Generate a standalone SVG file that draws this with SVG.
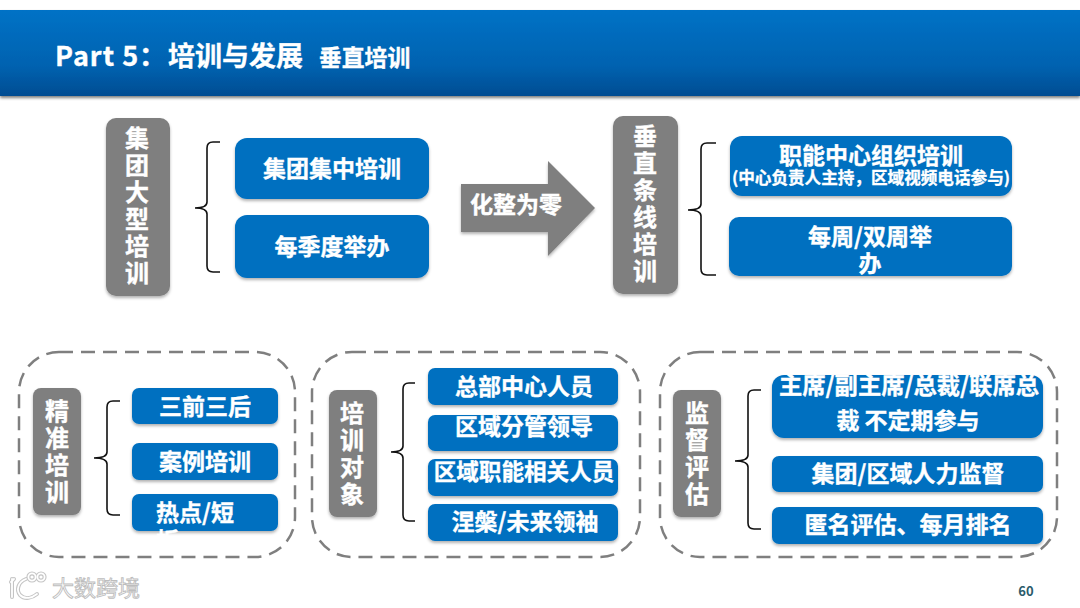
<svg xmlns="http://www.w3.org/2000/svg" width="1080" height="608" viewBox="0 0 1080 608">
<style>
text{font-family:"Noto Sans CJK SC","Noto Sans",sans-serif;font-weight:700;fill:#fff;text-anchor:middle;stroke:#fff;stroke-width:.35px}
.blue{fill:#0070c0;filter:url(#sh)}
.grey{fill:#7f7f7f;filter:url(#sh)}
.dash{fill:none;stroke:#7f7f7f;stroke-width:2.5;stroke-dasharray:14 8}
.brace{fill:none;stroke:#111;stroke-width:1.6}
.t23{font-size:23px}
.mark{fill:none;stroke:#c4c4c4;stroke-width:4;stroke-linecap:round}
.mark2{fill:none;stroke:#fff;stroke-width:1.8;stroke-linecap:round}
</style>
<defs>
<linearGradient id="hd" x1="0" y1="0" x2="0" y2="1"><stop offset="0" stop-color="#0072c6"/><stop offset=".65" stop-color="#0062b0"/><stop offset="1" stop-color="#004c92"/></linearGradient>
<filter id="sh" x="-20%" y="-20%" width="140%" height="140%"><feDropShadow dx="0" dy="2" stdDeviation="1.5" flood-color="#000" flood-opacity=".3"/></filter>
<filter id="hs" x="-5%" y="-20%" width="110%" height="140%"><feDropShadow dx="0" dy="2" stdDeviation="1.5" flood-color="#000" flood-opacity=".5"/></filter>
</defs>
<rect width="1080" height="608" fill="#fff"/>
<g id="header">
<rect y="10" width="1080" height="86" fill="url(#hd)" filter="url(#hs)"/>
<text x="55" y="66" font-size="27" style="text-anchor:start"><tspan style="letter-spacing:1px">Part 5：</tspan><tspan x="168">培训与发展</tspan></text>
<text x="319" y="66" font-size="22.8" style="text-anchor:start">垂直培训</text>
</g>
<g id="containers">
<rect class="dash" x="19" y="352" width="276" height="205" rx="40"/>
<rect class="dash" x="312" y="352" width="328" height="205" rx="40"/>
<rect class="dash" x="660" y="352" width="397" height="205" rx="40"/>
</g>
<g id="connectors">
<path class="brace" d="M220 142H213Q207 142 207 148V202Q207 208 195 208Q207 208 207 214V266Q207 272 213 272H220"/>
<path class="brace" d="M716 143H707Q701 143 701 149V204Q701 210 688 210Q701 210 701 216V269Q701 275 707 275H716"/>
<path class="brace" d="M120 401H113Q107 401 107 407V452Q107 458 94 458Q107 458 107 464V509Q107 515 113 515H120"/>
<path class="brace" d="M415 383H409Q403 383 403 389V446Q403 452 391 452Q403 452 403 458V515Q403 521 409 521H415"/>
<path class="brace" d="M761 390H754Q748 390 748 396V455Q748 461 735 461Q748 461 748 467V523Q748 529 754 529H761"/>
</g>
<g id="n-group-train"><rect class="grey" x="106" y="118" width="64" height="178" rx="10"/>
<text font-size="24"><tspan x="137" y="147">集</tspan><tspan x="137" y="174">团</tspan><tspan x="137" y="201">大</tspan><tspan x="137" y="228">型</tspan><tspan x="137" y="255">培</tspan><tspan x="137" y="282">训</tspan></text></g>
<g id="n-central"><rect class="blue" x="235" y="138" width="194" height="61" rx="12"/><text class="t23" x="332" y="177">集团集中培训</text></g>
<g id="n-quarterly"><rect class="blue" x="235" y="215" width="194" height="63" rx="12"/><text class="t23" x="332" y="255">每季度举办</text></g>
<g id="n-arrow"><path d="M461 184H548V161L595 208L548 256V232H461Z" fill="#7f7f7f" filter="url(#sh)"/><text class="t23" x="516" y="213">化整为零</text></g>
<g id="n-vertical"><rect class="grey" x="613" y="116" width="65" height="178" rx="10"/>
<text font-size="24"><tspan x="645" y="145">垂</tspan><tspan x="645" y="172">直</tspan><tspan x="645" y="199">条</tspan><tspan x="645" y="226">线</tspan><tspan x="645" y="253">培</tspan><tspan x="645" y="280">训</tspan></text></g>
<g id="n-function"><rect class="blue" x="730" y="136" width="282" height="60" rx="12"/><text class="t23" x="871" y="164">职能中心组织培训</text><text font-size="16.6" x="871" y="184">(中心负责人主持，区域视频电话参与)</text></g>
<g id="n-weekly"><rect class="blue" x="729" y="217" width="283" height="59" rx="10"/><text class="t23" x="870" y="245">每周/双周举</text><text class="t23" x="870" y="272">办</text></g>
<g id="n-precise"><rect class="grey" x="33" y="388" width="48" height="127" rx="8"/>
<text font-size="24"><tspan x="57" y="420">精</tspan><tspan x="57" y="447">准</tspan><tspan x="57" y="474">培</tspan><tspan x="57" y="501">训</tspan></text></g>
<g id="n-p1"><rect class="blue" x="132" y="388" width="146" height="36" rx="7"/><text class="t23" x="205" y="415">三前三后</text></g>
<g id="n-p2"><rect class="blue" x="132" y="443" width="146" height="37" rx="7"/><text class="t23" x="205" y="470">案例培训</text></g>
<g id="n-p3"><rect class="blue" x="132" y="494" width="146" height="37" rx="7"/><text class="t23" x="195" y="521">热点/短</text><text class="t23" x="156" y="549" style="text-anchor:start">板</text></g>
<g id="n-target"><rect class="grey" x="329" y="390" width="48" height="127" rx="8"/>
<text font-size="24"><tspan x="352" y="422">培</tspan><tspan x="352" y="449">训</tspan><tspan x="352" y="476">对</tspan><tspan x="352" y="503">象</tspan></text></g>
<g id="n-t1"><rect class="blue" x="428" y="368" width="190" height="37" rx="7"/><text class="t23" x="524" y="395">总部中心人员</text></g>
<g id="n-t2"><rect class="blue" x="428" y="415" width="190" height="36" rx="7"/><text class="t23" x="524" y="435">区域分管领导</text></g>
<g id="n-t3"><rect class="blue" x="428" y="459" width="190" height="37" rx="7"/><text font-size="22.6" x="524" y="480">区域职能相关人员</text></g>
<g id="n-t4"><rect class="blue" x="428" y="504" width="190" height="37" rx="7"/><text class="t23" x="525" y="530">涅槃/未来领袖</text></g>
<g id="n-monitor"><rect class="grey" x="673" y="390" width="48" height="127" rx="8"/>
<text font-size="24"><tspan x="697" y="422">监</tspan><tspan x="697" y="449">督</tspan><tspan x="697" y="476">评</tspan><tspan x="697" y="503">估</tspan></text></g>
<g id="n-m1"><rect class="blue" x="772" y="375" width="271" height="63" rx="12"/><text font-size="23.3" x="909" y="394">主席/副主席/总裁/联席总</text><text class="t23" x="908" y="429">裁 不定期参与</text></g>
<g id="n-m2"><rect class="blue" x="772" y="456" width="271" height="36" rx="7"/><text class="t23" x="908" y="482">集团/区域人力监督</text></g>
<g id="n-m3"><rect class="blue" x="772" y="507" width="271" height="37" rx="7"/><text class="t23" x="908" y="533">匿名评估、每月排名</text></g>
<g id="watermark">
<path class="mark" d="M12 579V597M11 582L14 579M26 579C18 582 16 590 20 595C25 600 32 598 37 594"/>
<circle class="mark" cx="32" cy="577" r="3.6"/><circle class="mark" cx="41" cy="577" r="3.6"/>
<path class="mark2" d="M12 579V597M11 582L14 579M26 579C18 582 16 590 20 595C25 600 32 598 37 594"/>
<circle class="mark2" cx="32" cy="577" r="3.6"/><circle class="mark2" cx="41" cy="577" r="3.6"/>
<text x="96" y="596" font-size="22" style="font-weight:400;stroke:#bdbdbd;stroke-width:.9px">大数跨境</text>
</g>
<g id="page"><text x="1026" y="596" font-size="13" style="fill:#2b5b6b;stroke:none">60</text></g>
</svg>
